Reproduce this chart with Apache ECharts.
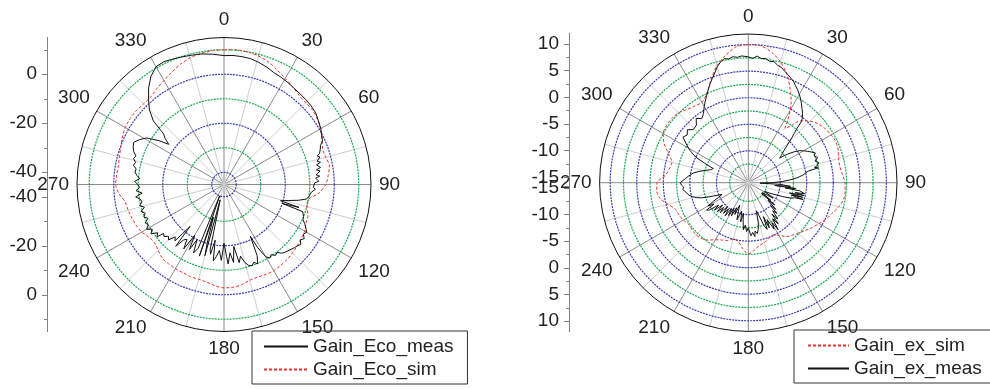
<!DOCTYPE html>
<html>
<head>
<meta charset="utf-8">
<script src="https://cdn.jsdelivr.net/npm/echarts@6/dist/echarts.min.js"></script>
<style>
html, body { margin: 0; padding: 0; background: #fff; }
#chart { width: 990px; height: 389px; }
</style>
</head>
<body>
<div id="chart"></div>
<script>
// left plot: Gain_Eco (dB)
const ecoSimAngle = [0,5,10,15,20,25,30,35,40,45,50,55,60,65,70,75,80,85,90,95,100,105,110,115,120,125,130,135,140,145,150,155,160,165,170,175,180,185,190,195,200,205,210,215,220,225,230,235,240,245,250,255,260,265,270,275,280,285,290,295,300,305,310,315,320,325,330,335,340,345,350,355,360]
const ecoSimGain = [10,10.2,10,9.3,8.2,6.5,5,3.8,2.6,2.2,2.2,1.5,0.5,-0.8,-2.2,-2,-1.3,-2.3,-3.5,-6,-10,-10,-8.5,-8,-7,-6.5,-6,-5.5,-5,-4.7,-4.4,-4.5,-4.8,-4.5,-3.5,-2.9,-2.8,-3.5,-4.5,-5,-5,-5.3,-5.3,-5.5,-5.8,-7,-8,-7.5,-6.2,-5.5,-5,-4.5,-4,-2,-0.8,-1,-1.2,-0.8,-0.2,0.8,1.5,1.8,1.8,1.5,1.6,2.8,4,5.5,7.2,8.5,9.3,9.8,10]

const ecoMeasAngle = [0,4,8,12,16,20,24,28,32,36,40,44,48,52,56,60,63,66,68,70,72,73,74,76,77,78,80,81,82,84,85,86,88,89,90,92,93,95,96,98,100,102,104,106,107,108,109,110,112,114,116,118,120,122,124,126,128,130,132,134,136,138,140,142,144,146,148,150,152,153,155,157,159,161,163,165,167,169,171,173,175,177,178,180,182,184,186,188,189,191,192,194,195,196,198,199,201,202,204,206,208,210,212,214,216,218,219,221,223,225,227,229,231,232,234,236,238,240,242,244,246,248,250,252,254,256,258,260,262,264,266,268,270,272,274,276,278,280,282,284,286,288,290,292,295,298,301,304,306,308,310,312,315,318,322,326,330,334,338,342,346,350,355,360]
const ecoMeasGain = [7.6,7.8,7.7,7.5,6.8,6,5,4.6,4.1,3.6,3.3,3.1,2.9,2.5,1.5,0.6,-0.3,-1,-2.5,-3.2,-4,-5.2,-4.3,-5.8,-4.6,-6.4,-5,-6.8,-5.4,-7.2,-5.8,-7.5,-6.3,-8,-7.2,-8.5,-7.6,-9.2,-8.4,-10,-10.8,-14,-18,-21,-13,-20,-11,-10.5,-10,-9.7,-8.3,-7.2,-6,-6.8,-5.5,-6.5,-5.2,-6,-6.4,-6.9,-7.4,-7.8,-8.4,-9.8,-9.2,-10.5,-9.6,-10.9,-16,-21.3,-13,-9.8,-11,-9.9,-10.5,-12,-15,-12.5,-19.4,-13,-17,-12.5,-15.7,-21,-14,-18,-15.5,-13.5,-22,-16,-17.8,-38.5,-15,-20,-31,-14.1,-40,-17,-14.4,-19.9,-15,-21,-14,-18,-17.1,-13,-23,-14.5,-15.8,-13,-14,-12.6,-13.3,-10.3,-11.5,-9,-10.5,-8.5,-10,-9.2,-11,-9.7,-10.8,-9.4,-11.2,-9.5,-10.8,-10.3,-8.6,-11.4,-9,-10.6,-9.8,-8.5,-10.5,-9.2,-8.3,-8.6,-7.2,-7.8,-6.6,-7.2,-5.8,-5,-4.3,-6,-8.1,-13,-17.1,-14.5,-12.8,-6.2,-2,1,5,8.3,10.5,10.8,10.3,9.8,9.4,9.1,8.4,7.6]

// right plot: Gain_ex (dB)
const exSimAngle = [0,5,10,15,20,25,28,31,34,37,40,45,50,55,60,65,70,75,80,85,90,95,100,105,110,115,120,125,130,135,140,145,150,155,160,165,170,175,180,185,190,195,200,205,210,215,220,225,230,235,240,245,250,255,260,265,270,275,280,285,290,295,300,305,310,315,320,325,330,335,340,345,350,355,360]
const exSimGain = [10,9.9,9,7.5,5.5,2.8,1.2,-1,-3.7,-2.5,-0.8,0.4,1.2,1.7,2,2.2,2,1.6,1.5,1.8,2.2,2.3,2.2,1.6,0.8,0.2,-0.6,-1.3,-2,-2.6,-3.1,-3.6,-4.6,-5.1,-4.8,-4.3,-4,-3.2,-2.6,-3.6,-4.8,-5,-4.4,-4.1,-3.6,-2.8,-2.3,-2.1,-2.2,-2.3,-1.9,-1.6,-1.4,-0.3,0.9,1.3,1.2,-0.3,-0.9,-1.1,0,1.5,2.5,2.8,2.8,2.6,2,1.6,1.5,2.5,4.6,6.8,8.4,9.7,10]

const exMeasAngle = [0,2,4,6,8,10,12,14,16,18,20,22,24,26,28,30,32,34,36,38,40,41,42,43,44,45,46,48,50,52,53,54,56,58,60,62,64,66,68,70,72,74,76,77,78,79,80,82,84,86,88,90,92,93,95,96,97,98,99,100,101,102,103,104,105,106,107,108,110,112,114,116,118,120,122,124,126,128,129,130,132,134,136,137,139,141,143,144,146,147.6,149,151,153,155,156,158,160,162,164,166,168,170,172,173,175,177,178,180,182,184,186,188,189,191,193,195,197,199,201,202,203,205,207,209,211,213,215,217,219,221,223,225,227,229,231,233,235,236.7,238,240,242,244,246,247,249,250,252,254,256,258,260,262,264,266,268,270,272,274,276,278,280,283,286,289,292,294,296,299,302,305,308,311,314,318,321,324,327,330,332,334,336,338,339,341,343,345,347,349,351,353,355,357,360]
const exMeasGain = [7.7,7.4,7.9,7.5,7.6,7.2,7.3,6.8,6.6,6.1,5.7,5.3,4.9,4.3,3.8,3.2,2.6,1.9,1.2,0.6,-0.2,-0.8,-2.4,-3.3,-4.2,-5,-5.8,-7,-7.8,-8.5,-7.5,-6.8,-5.6,-4.6,-4,-3.4,-2.8,-2.2,-2.6,-2.1,-2.8,-2.2,-2.6,-3.2,-2.5,-4.5,-4.4,-5.6,-6.6,-8,-9.5,-11.5,-13.8,-10,-8,-11,-7,-9,-6.2,-6.5,-5.2,-7,-5.2,-8,-5.4,-7.5,-5.2,-6.8,-7.5,-9,-10.5,-11.5,-12.5,-12,-10.5,-12.2,-12.8,-10.6,-12.8,-9.5,-11,-8.8,-9.9,-8.1,-9,-7.2,-8.6,-6.4,-7.8,-5.5,-7.2,-6,-8.2,-6.6,-9,-6.5,-7.4,-9.5,-10.5,-8.2,-7,-6.3,-6.8,-5.8,-6.6,-6,-6.5,-7.5,-6.8,-8,-7.1,-9,-10.2,-8.5,-10.5,-9.8,-8.7,-10.2,-11.5,-11.8,-9.5,-10.8,-9,-10.5,-8.8,-10.2,-8.4,-9.8,-8.6,-10,-8.3,-9.4,-8,-9.6,-7.8,-9,-7,-6.6,-8.4,-7.2,-8.6,-9.8,-10.6,-10.9,-9,-8.3,-6.8,-5.8,-5.2,-4.6,-4.4,-4,-3.6,-3.8,-3.4,-3.2,-3.7,-4.2,-4.6,-4.9,-5.5,-6.5,-7.6,-8.5,-8.9,-7,-5,-3.4,-2.2,-1,-1.4,-0.8,-1.6,-1.4,-0.4,-1.1,-0.5,0.6,1.3,2,2.8,3.6,4,4.8,5.6,6.6,7.3,7.8,7.6,7.9,7.7,7.9,7.7]

// rings and side-axis ticks
const ecoRings = [-40, -30, -20, -10, 0, 10]
const ecoMajor = [-40, -20, 0]
const ecoMinor = [-30, -10, 10]
const exRings = [-12.5, -10, -7.5, -5, -2.5, 0, 2.5, 5, 7.5, 10]
const exMajor = [-15, -10, -5, 0, 5, 10]
const exMinor = [-12.5, -7.5, -2.5, 2.5, 7.5]

const font = 'Liberation Sans, Arial, sans-serif'
const pairs = (angles, gains) => angles.map((a, i) => [gains[i], a])

const angleAxis = (idx) => ({
  polarIndex: idx,
  type: 'value',
  min: 0,
  max: 360,
  interval: 15,
  startAngle: 90,
  clockwise: true,
  axisLine: { lineStyle: { color: '#111', width: 1 } },
  axisTick: { show: false },
  axisLabel: {
    color: '#222', fontSize: 19, fontFamily: font, margin: 8,
    formatter: (v) => (v % 30 === 0 && v < 360 ? String(v) : '')
  },
  splitLine: { show: true, lineStyle: { color: ['#8a8a8a', '#cfcfcf'], width: 1 } }
})

const radiusAxis = (idx, min, max, rings, colors) => ({
  polarIndex: idx,
  type: 'value',
  min, max,
  axisLine: { show: false },
  axisLabel: { show: false },
  axisTick: { show: false, customValues: rings },
  splitLine: { show: true, lineStyle: { color: colors, width: 1.2, type: [2, 1] } },
  z: 2
})

const sideY = (grid, min, max, inverse, major, minor) => [
  {
    gridIndex: grid, type: 'value', min, max, inverse, position: 'left',
    axisLine: { show: true, lineStyle: { color: '#808080' } },
    axisTick: { show: true, customValues: major, length: 5, lineStyle: { color: '#808080' } },
    axisLabel: { customValues: major, color: '#222', fontSize: 19, fontFamily: font, margin: 10 },
    splitLine: { show: false }
  },
  {
    gridIndex: grid, type: 'value', min, max, inverse, position: 'left',
    axisLine: { show: false },
    axisTick: { show: true, customValues: minor, length: 3, lineStyle: { color: '#808080' } },
    axisLabel: { show: false },
    splitLine: { show: false }
  }
]

const legendBase = {
  orient: 'vertical', selectedMode: false,
  itemHeight: 12, itemGap: 4,
  borderColor: '#333', borderWidth: 1,
  itemStyle: { opacity: 0 },
  textStyle: { fontSize: 19, color: '#222', fontFamily: font }
}

const chart = echarts.init(document.getElementById('chart'))
chart.setOption({
  animation: false,
  backgroundColor: '#fff',
  textStyle: { fontFamily: font },
  polar: [
    { center: [224, 184.5], radius: 147 },
    { center: [748.3, 182.7], radius: 148.7 }
  ],
  angleAxis: [angleAxis(0), angleAxis(1)],
  radiusAxis: [
    radiusAxis(0, -45, 15, ecoRings, ['#3b3bb0', '#17a84e']),
    radiusAxis(1, -16, 12, exRings, ['#17a84e', '#3b3bb0'])
  ],
  grid: [
    { left: 47, width: 1, top: 37.5, height: 147 },
    { left: 47, width: 1, top: 184.5, height: 147.2 },
    { left: 569, width: 1, top: 33.3, height: 149.4 },
    { left: 569, width: 1, top: 182.7, height: 149 }
  ],
  xAxis: [0, 1, 2, 3].map(g => ({ gridIndex: g, type: 'value', show: false })),
  yAxis: [
    ...sideY(0, -45, 15, false, ecoMajor, ecoMinor),
    ...sideY(1, -45, 15, true, ecoMajor, ecoMinor),
    ...sideY(2, -16, 12, false, exMajor, exMinor),
    ...sideY(3, -16, 12, true, exMajor, exMinor)
  ],
  legend: [
    Object.assign({}, legendBase, {
      left: 252, top: 331, itemWidth: 44, padding: [6, 14, 5, 11],
      data: ['Gain_Eco_meas', 'Gain_Eco_sim']
    }),
    Object.assign({}, legendBase, {
      left: 794, top: 330, itemWidth: 41, padding: [6, 15, 5, 13],
      data: ['Gain_ex_sim', 'Gain_ex_meas']
    })
  ],
  series: [
    {
      name: 'Gain_Eco_meas', type: 'line', coordinateSystem: 'polar', polarIndex: 0,
      symbol: 'none', data: pairs(ecoMeasAngle, ecoMeasGain),
      lineStyle: { color: '#111', width: 1 }, itemStyle: { color: '#111' }, z: 4
    },
    {
      name: 'Gain_Eco_sim', type: 'line', coordinateSystem: 'polar', polarIndex: 0,
      symbol: 'none', smooth: 0.3, data: pairs(ecoSimAngle, ecoSimGain),
      lineStyle: { color: '#e8342c', width: 1, type: [3, 2] }, itemStyle: { color: '#e8342c' }, z: 3
    },
    {
      name: 'Gain_ex_sim', type: 'line', coordinateSystem: 'polar', polarIndex: 1,
      symbol: 'none', smooth: 0.3, data: pairs(exSimAngle, exSimGain),
      lineStyle: { color: '#e8342c', width: 1, type: [3, 2] }, itemStyle: { color: '#e8342c' }, z: 3
    },
    {
      name: 'Gain_ex_meas', type: 'line', coordinateSystem: 'polar', polarIndex: 1,
      symbol: 'none', data: pairs(exMeasAngle, exMeasGain),
      lineStyle: { color: '#111', width: 1 }, itemStyle: { color: '#111' }, z: 4
    }
  ]
})
</script>
</body>
</html>
